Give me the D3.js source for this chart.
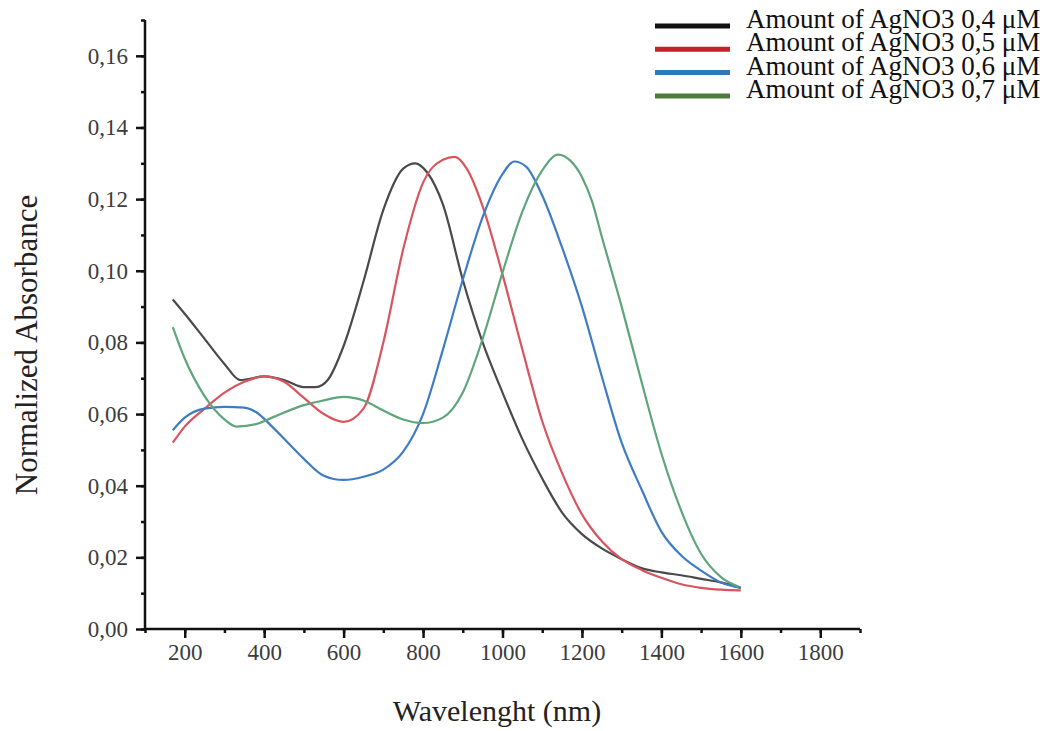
<!DOCTYPE html>
<html>
<head>
<meta charset="utf-8">
<script src="https://cdn.jsdelivr.net/npm/d3@7"></script>
<style>
  body { margin: 0; background: #fff; }
  svg { display: block; font-family: "Liberation Serif", "Times New Roman", serif; }
</style>
</head>
<body>
<svg width="1055" height="731"></svg>
<script>
// wavelength (nm) / normalized absorbance
const wl04 = [170, 200, 250, 300, 340, 400, 450, 500, 530, 560, 600, 650, 700, 750, 780, 810, 850, 900, 950, 1000, 1050, 1100, 1150, 1200, 1250, 1300, 1350, 1400, 1450, 1500, 1550, 1600];
const ab04 = [0.092, 0.088, 0.081, 0.074, 0.0695, 0.0705, 0.0695, 0.0675, 0.0675, 0.0695, 0.079, 0.097, 0.117, 0.1285, 0.130, 0.1275, 0.1185, 0.0975, 0.080, 0.066, 0.053, 0.042, 0.0325, 0.0265, 0.0225, 0.0195, 0.017, 0.0158, 0.015, 0.014, 0.013, 0.0115];

const wl05 = [170, 200, 250, 300, 350, 400, 450, 500, 550, 600, 650, 700, 750, 800, 850, 880, 910, 950, 1000, 1050, 1100, 1150, 1200, 1250, 1300, 1350, 1400, 1450, 1500, 1550, 1600];
const ab05 = [0.052, 0.0565, 0.0615, 0.066, 0.069, 0.0705, 0.069, 0.0645, 0.060, 0.0578, 0.0615, 0.080, 0.106, 0.1246, 0.131, 0.1318, 0.1285, 0.118, 0.099, 0.078, 0.058, 0.0435, 0.032, 0.0245, 0.0195, 0.0165, 0.0143, 0.0125, 0.0115, 0.011, 0.0108];

const wl06 = [170, 200, 250, 300, 350, 380, 420, 460, 500, 550, 600, 650, 700, 750, 800, 850, 900, 950, 1000, 1030, 1060, 1100, 1150, 1200, 1250, 1300, 1350, 1400, 1450, 1500, 1550, 1600];
const ab06 = [0.0555, 0.059, 0.0615, 0.062, 0.0618, 0.0605, 0.0565, 0.052, 0.0475, 0.0428, 0.0416, 0.0425, 0.0445, 0.0495, 0.060, 0.078, 0.0975, 0.115, 0.127, 0.1305, 0.129, 0.121, 0.1065, 0.090, 0.0705, 0.052, 0.039, 0.0272, 0.0205, 0.0163, 0.013, 0.0115];

const wl07 = [170, 200, 250, 300, 330, 380, 420, 500, 550, 600, 650, 700, 750, 800, 850, 900, 950, 1000, 1050, 1100, 1140, 1170, 1200, 1225, 1250, 1300, 1350, 1400, 1450, 1500, 1550, 1595];
const ab07 = [0.0843, 0.0755, 0.065, 0.0585, 0.0565, 0.0572, 0.059, 0.0625, 0.0638, 0.0648, 0.0638, 0.061, 0.0585, 0.0575, 0.059, 0.066, 0.081, 0.0995, 0.1165, 0.128, 0.1324, 0.1308, 0.1262, 0.1195, 0.1095, 0.090, 0.069, 0.049, 0.033, 0.021, 0.0145, 0.0118];

const seriesNames = ["Amount of AgNO3 0,4 μM", "Amount of AgNO3 0,5 μM", "Amount of AgNO3 0,6 μM", "Amount of AgNO3 0,7 μM"];
const lineColors = ["#4a4a4a", "#d8545e", "#3f7cc4", "#5ea57a"];
const legendColors = ["#111111", "#c8202a", "#2e7ab8", "#4f7a3c"];

const xTicks = [200, 400, 600, 800, 1000, 1200, 1400, 1600, 1800];
const yTicks = [0, 0.02, 0.04, 0.06, 0.08, 0.10, 0.12, 0.14, 0.16];

const series = [
    { name: seriesNames[0], wl: wl04, ab: ab04 },
    { name: seriesNames[1], wl: wl05, ab: ab05 },
    { name: seriesNames[2], wl: wl06, ab: ab06 },
    { name: seriesNames[3], wl: wl07, ab: ab07 }
];

const svg = d3.select("svg");

const x = d3.scaleLinear().domain([100, 1900]).range([145, 860]);
const y = d3.scaleLinear().domain([0, 0.17]).range([629, 20]);

const fmt = d => d3.format(".2f")(d).replace(".", ",");

// axes
const axes = svg.append("g");

// minor ticks first, then major on top
axes.append("g")
    .attr("transform", `translate(0, ${y(0)})`)
    .call(d3.axisBottom(x).tickValues(d3.range(100, 1901, 100)).tickSize(4).tickFormat(""))
    .call(g => g.select(".domain").remove())
    .selectAll("line").attr("stroke", "#111").attr("stroke-width", 2.5);
axes.append("g")
    .attr("transform", `translate(${x(100)}, 0)`)
    .call(d3.axisLeft(y).tickValues(d3.range(0, 0.1701, 0.01)).tickSize(4).tickFormat(""))
    .call(g => g.select(".domain").remove())
    .selectAll("line").attr("stroke", "#111").attr("stroke-width", 2.5);

const xAxis = axes.append("g")
    .attr("transform", `translate(0, ${y(0)})`)
    .call(d3.axisBottom(x).tickValues(xTicks).tickSize(9).tickPadding(6).tickFormat(d3.format("d")));
const yAxis = axes.append("g")
    .attr("transform", `translate(${x(100)}, 0)`)
    .call(d3.axisLeft(y).tickValues(yTicks).tickSize(9).tickPadding(8).tickFormat(fmt));

[xAxis, yAxis].forEach(g => {
    g.select(".domain").attr("stroke", "#111").attr("stroke-width", 2.5);
    g.selectAll(".tick line").attr("stroke", "#111").attr("stroke-width", 2.5);
    g.selectAll(".tick text")
        .style("font-family", "'Liberation Serif', serif")
        .style("font-size", "23px")
        .attr("fill", "#3c3c3c");
});
xAxis.select(".domain").attr("d", `M${x(100)},0H${x(1900)}`);
yAxis.select(".domain").attr("d", `M0,${y(0)}V${y(0.17)}`);

// axis titles
svg.append("text")
    .attr("x", 497)
    .attr("y", 721)
    .attr("text-anchor", "middle")
    .style("font-size", "30px")
    .attr("fill", "#222")
    .text("Wavelenght (nm)");
svg.append("text")
    .attr("transform", "translate(37, 345) rotate(-90)")
    .attr("text-anchor", "middle")
    .style("font-size", "31px")
    .attr("fill", "#222")
    .text("Normalized Absorbance");

// curves
const line = d3.line()
    .x(d => x(d[0]))
    .y(d => y(d[1]))
    .curve(d3.curveMonotoneX);

svg.append("g")
    .selectAll("path")
    .data(series)
    .join("path")
    .attr("d", s => line(s.wl.map((w, i) => [w, s.ab[i]])))
    .attr("fill", "none")
    .attr("stroke", (s, i) => lineColors[i])
    .attr("stroke-width", 2.2)
    .attr("stroke-linejoin", "round");

// legend (rows overlap slightly, as in the source figure)
const legend = svg.append("g")
    .selectAll("g")
    .data(series)
    .join("g")
    .attr("transform", (s, i) => `translate(0, ${26 + i * 23.3})`);
legend.append("line")
    .attr("x1", 655).attr("x2", 730)
    .attr("y1", 0).attr("y2", 0)
    .attr("stroke", (s, i) => legendColors[i])
    .attr("stroke-width", 5);
legend.append("text")
    .attr("x", 746)
    .attr("y", 2)
    .style("font-size", "27px")
    .attr("fill", "#111")
    .text(s => s.name);
</script>
</body>
</html>
